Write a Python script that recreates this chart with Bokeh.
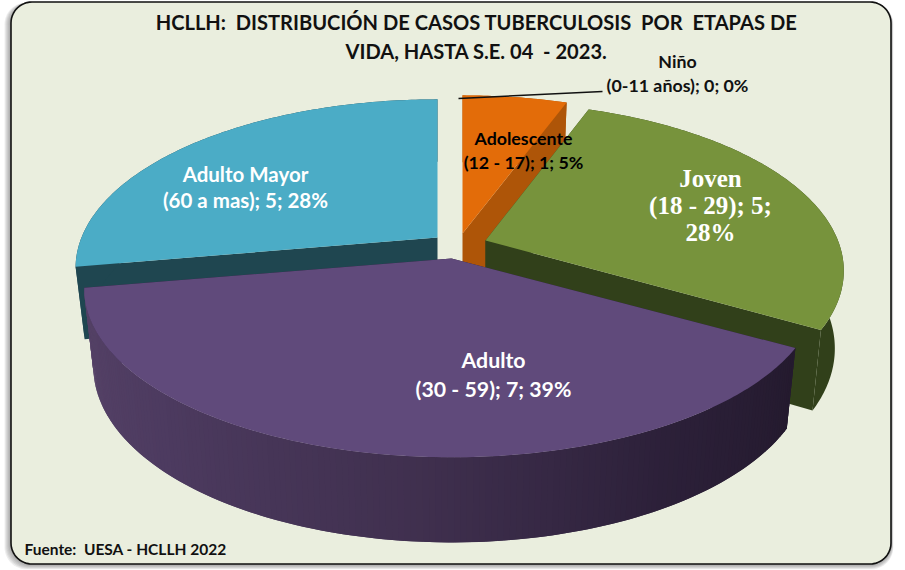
import numpy as np
from bokeh.plotting import figure
from bokeh.embed import file_html
from bokeh.resources import INLINE
from bokeh.core.properties import value

categories = ["Niño", "Adolescente", "Joven", "Adulto", "Adulto Mayor"]
ranges = ["(0-11 años)", "(12 - 17)", "(18 - 29)", "(30 - 59)", "(60 a mas)"]
values = [0, 1, 5, 7, 5]
percents = [0, 5, 28, 39, 28]
top_colors = ["#000000", "#E36C09", "#77933C", "#604A7B", "#4BACC6"]
wall_colors = ["#000000", "#AE5508", "#31401A", "#2A1F38", "#1F4650"]
title_lines = ["HCLLH:\u00a0 DISTRIBUCIÓN DE CASOS TUBERCULOSIS\u00a0 POR\u00a0 ETAPAS DE",
               "VIDA, HASTA S.E. 04\u00a0 - 2023."]
source_text = "Fuente:\u00a0 UESA - HCLLH 2022"

# layout (pixels)
W, H = 905, 570
APEX = {1: (462, 233), 2: (485, 240), 3: (451, 258), 4: (437, 237)}
XSCALE = {1: 1.0, 2: 0.99, 3: 1.015, 4: 1.0}
SLICE_DEPTH = {1: 76, 2: 76, 3: 76, 4: 71}
RX, RY, K = 356, 163, 0.18

p = figure(width=W, height=H, x_range=(0, W), y_range=(H, 0), toolbar_location=None,
           output_backend="svg", min_border=0, outline_line_color=None,
           background_fill_color="white", border_fill_color="white")
p.axis.visible = False
p.grid.visible = False


def rounded(x0, y0, x1, y1, r):
    t = np.linspace(0, np.pi / 2, 14)
    xs = np.concatenate([x1 - r + r * np.sin(t), x1 - r + r * np.cos(t),
                         x0 + r - r * np.sin(t), x0 + r - r * np.cos(t)])
    ys = np.concatenate([y0 + r - r * np.cos(t), y1 - r + r * np.sin(t),
                         y1 - r + r * np.cos(t), y0 + r - r * np.sin(t)])
    return xs, ys


# panel shadow + panel
for i in range(6, 0, -1):
    xs, ys = rounded(10 - i, 2, 891 + i * 0.3, 564 + i * 0.8, 22)
    p.patch(xs, ys, fill_color="#404040", fill_alpha=0.09, line_color=None)
xs, ys = rounded(10.5, 1.5, 890.5, 563.5, 21)
p.patch(xs, ys, fill_color="#EAEEDE", line_color="#111111", line_width=1.6)


def top_xy(theta, xs=1.0):
    th = np.radians(theta)
    X, Y = np.sin(th), -np.cos(th)
    s = 1 / (1 - K * Y)
    return RX * xs * X * s, RY * Y * s, Y


def bottom_xy(theta, xs=1.0, depth=76):
    dx, dy, Y = top_xy(theta, xs)
    return dx * 0.975, dy + depth * (1 + 0.12 * Y)


def mix(c1, c2, f):
    a = [int(c1[i:i + 2], 16) for i in (1, 3, 5)]
    b = [int(c2[i:i + 2], 16) for i in (1, 3, 5)]
    return "#%02x%02x%02x" % tuple(int(round(u + (v - u) * f)) for u, v in zip(a, b))


total = sum(values)
edges = np.concatenate([[0], np.cumsum(values)]) * 360.0 / total

# painter's order: back-left slice, then back, then right, then front
for idx in [4, 1, 2, 3]:
    t0, t1 = edges[idx], edges[idx + 1]
    ax, ay = APEX[idx]
    sc = XSCALE[idx]
    dp = SLICE_DEPTH[idx]
    th = np.linspace(t0, t1, int(values[idx]) * 24 + 2)
    tx, ty, _ = top_xy(th, sc)
    bx, by = bottom_xy(th, sc, dp)
    wall = wall_colors[idx]
    # radial walls facing the viewer
    for t in (t0, t1):
        dx, dy, _ = top_xy(t, sc)
        ex, ey = bottom_xy(t, sc, dp)
        p.patch([ax, ax + dx, ax + ex, ax], [ay, ay + dy, ay + ey, ay + dp],
                fill_color=wall, line_color=None)
    # outer rim
    if idx == 3:
        stops = np.array([120, 150, 185, 225, 262])
        cols = ["#241A2E", "#2C2039", "#40304F", "#4D3B60", "#574368"]
        step = th[1] - th[0]
        # drawn from the left end to the right end, each band overlapping the next
        for a, b in zip(th[:-1][::-1], th[1:][::-1]):
            m = (a + b) / 2
            j = min(np.searchsorted(stops, m), len(stops) - 1)
            f = (m - stops[j - 1]) / (stops[j] - stops[j - 1])
            c = mix(cols[j - 1], cols[j], f)
            pair = np.array([max(a - step, t0), b])
            xa, ya, _ = top_xy(pair, sc)
            xb, yb = bottom_xy(pair, sc, dp)
            p.patch(ax + np.r_[xa, xb[::-1]], ay + np.r_[ya, yb[::-1]],
                    fill_color=c, line_color=None)
    else:
        p.patch(ax + np.r_[tx, bx[::-1]], ay + np.r_[ty, by[::-1]],
                fill_color=wall, line_color=None)
    # top face
    p.patch(np.r_[ax, ax + tx], np.r_[ay, ay + ty], fill_color=top_colors[idx],
            line_color=None)

# leader line for the empty slice
p.line([458, 602], [98, 91], line_color="#111111", line_width=1.5)


def label_lines(i):
    a = f"{ranges[i]}; {values[i]}; {percents[i]}%"
    return [categories[i], a]


def put(lines, xs_, ys_, size, color, font="Lato", align="center"):
    p.text(xs_, ys_, text=lines, text_font=value(font), text_font_size=size,
           text_font_style="bold", text_color=color, text_align=align,
           text_baseline="middle")


put(title_lines, [476, 476], [21, 50], "20.1px", "#111111")
put(label_lines(0), [677, 677], [60, 84], "17.8px", "#111111")
put(label_lines(1), [523, 523], [137, 161], "17.8px", "#000000")
j = f"{ranges[2]}; {values[2]};"
put([categories[2], j, f"{percents[2]}%"], [710, 710, 710], [178, 205, 232],
    "25px", "white", font="Liberation Serif")
put(label_lines(3), [493, 493], [359, 388], "21.3px", "white")
put(label_lines(4), [245, 245], [173, 199], "20.5px", "white")
put([source_text], [24], [548], "15.5px", "#111111", align="left")

open("out.html", "w").write(file_html(p, INLINE))
